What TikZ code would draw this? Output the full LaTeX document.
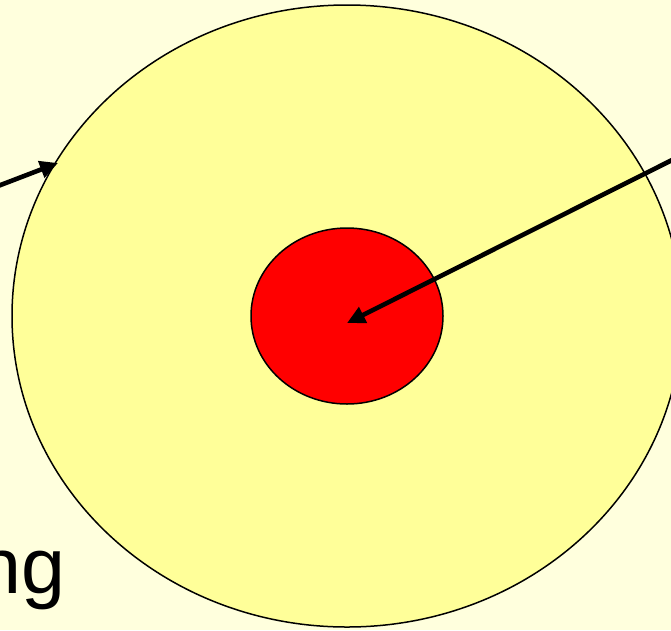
\documentclass[tikz,border=0pt]{standalone}
\usepackage{fontspec}
\setmainfont{Liberation Sans}
\usetikzlibrary{shapes.geometric,arrows.meta}
\definecolor{bgyellow}{HTML}{FFFFDD}
\definecolor{outerfill}{HTML}{FFFF99}
\definecolor{corered}{HTML}{FF0000}
\tikzset{
  zone/.style={ellipse, draw=black, line width=1.5pt, inner sep=0pt},
  pointer/.style={line width=4.6pt, -{Triangle[length=18pt,width=17pt]}}
}
\begin{document}
\begin{tikzpicture}[x=1pt,y=-1pt]
\useasboundingbox (0,0) rectangle (671,630);
\clip (0,0) rectangle (671,630);
\fill[bgyellow] (0,0) rectangle (671,630);
\node[zone, fill=outerfill, minimum width=670pt, minimum height=622pt] (outer) at (347,316) {};
\node[zone, fill=corered, minimum width=192pt, minimum height=176pt] (core) at (347,316) {};
\coordinate (a1start) at (-2,186);
\coordinate (a1end) at (58,163);
\coordinate (a2start) at (700,146);
\coordinate (a2end) at (347,323);
\draw[pointer] (a1start) -- (a1end);
\draw[pointer] (a2start) -- (a2end);
\node[anchor=base east, inner sep=0pt, font=\fontsize{79}{82}\selectfont] (label) at (66,593) {ng};
\end{tikzpicture}
\end{document}
